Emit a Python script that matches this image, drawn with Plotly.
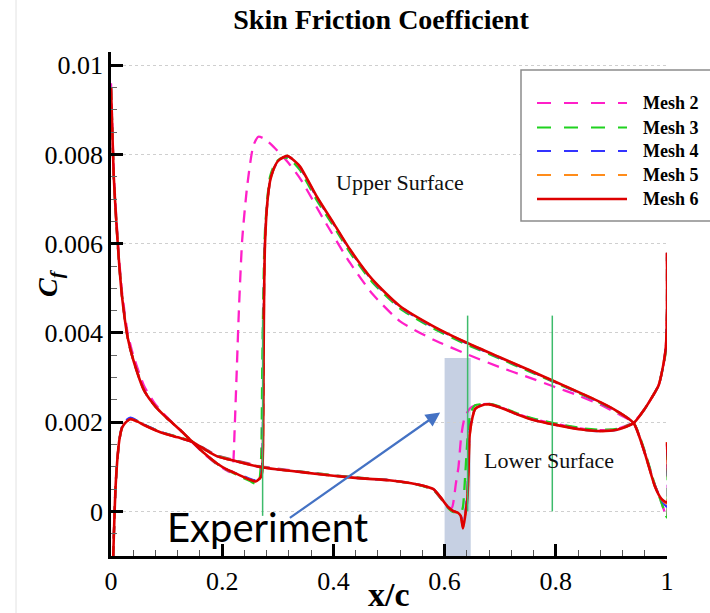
import plotly.graph_objects as go

# ---------------- data ----------------
MESH_NAMES = ["Mesh 2", "Mesh 3", "Mesh 4", "Mesh 5", "Mesh 6"]

# shared x grids for meshes 3-6
X_UP = [0.0, 0.002, 0.005, 0.01, 0.015, 0.02, 0.03, 0.04, 0.06, 0.08, 0.10, 0.125, 0.146,
        0.17, 0.19, 0.21, 0.23, 0.25, 0.26, 0.266, 0.27, 0.272, 0.2735, 0.2745, 0.2755,
        0.277, 0.281, 0.286, 0.292, 0.30, 0.31, 0.318, 0.326, 0.34, 0.37, 0.40, 0.43,
        0.47, 0.52, 0.58, 0.64, 0.70, 0.75, 0.80, 0.84, 0.88, 0.91, 0.94, 0.96, 0.978,
        0.99, 1.0, 1.0]
X_LO = [0.003, 0.0045, 0.006, 0.008, 0.011, 0.015, 0.02, 0.027, 0.035, 0.045, 0.062, 0.09,
        0.12, 0.146, 0.17, 0.19, 0.23, 0.27, 0.30, 0.35, 0.40, 0.45, 0.50, 0.54, 0.56,
        0.58, 0.595, 0.606, 0.615, 0.624, 0.629, 0.633, 0.637, 0.641, 0.643, 0.645, 0.65,
        0.655, 0.665, 0.68, 0.70, 0.73, 0.76, 0.80, 0.85, 0.88, 0.91, 0.94, 0.96, 0.975,
        0.985, 0.994, 0.998, 1.0, 1.0]

# mesh 2 has its own grid (earlier transition)
X_UP_M2 = [0.0, 0.002, 0.005, 0.01, 0.015, 0.02, 0.03, 0.04, 0.06, 0.08, 0.10, 0.125, 0.146,
           0.17, 0.19, 0.205, 0.214, 0.218, 0.22, 0.222, 0.226, 0.23, 0.236, 0.245, 0.256,
           0.265, 0.275, 0.292, 0.32, 0.342, 0.38, 0.43, 0.47, 0.52, 0.58, 0.643, 0.70,
           0.75, 0.796, 0.84, 0.88, 0.91, 0.94, 0.96, 0.978, 0.99, 1.0, 1.0]
CF_UP_M2 = [0.0096, 0.0088, 0.0076, 0.0065, 0.0056, 0.0049, 0.004, 0.0035, 0.0028, 0.0024,
            0.00212, 0.00182, 0.00155, 0.00126, 0.00106, 0.00094, 0.00088, 0.00092, 0.0011,
            0.0017, 0.0031, 0.0045, 0.0061, 0.0073, 0.0082, 0.0084, 0.00836, 0.00818,
            0.0078, 0.00743, 0.0066, 0.00557, 0.00488, 0.00426, 0.00385, 0.00351, 0.00323,
            0.00301, 0.0028, 0.0026, 0.00239, 0.0022, 0.00198, 0.0013, 0.0006, 0.0002,
            -0.00014, 0.0015]
X_LO_M2 = [0.003, 0.0045, 0.006, 0.008, 0.011, 0.015, 0.02, 0.027, 0.035, 0.045, 0.062, 0.09,
           0.12, 0.146, 0.17, 0.19, 0.23, 0.27, 0.30, 0.35, 0.40, 0.45, 0.50, 0.54, 0.56,
           0.58, 0.595, 0.606, 0.613, 0.617, 0.62, 0.625, 0.63, 0.636, 0.645, 0.655, 0.68,
           0.70, 0.73, 0.76, 0.80, 0.85, 0.88, 0.91, 0.94, 0.96, 0.975, 0.985, 0.994, 0.998,
           1.0, 1.0]
CF_LO_M2 = [-0.0015, -0.0008, -0.0002, 0.0005, 0.0011, 0.0016, 0.00188, 0.002, 0.00207,
            0.00203, 0.00192, 0.00177, 0.00166, 0.00156, 0.0014, 0.00126, 0.00113, 0.00101,
            0.00096, 0.00088, 0.00081, 0.00075, 0.0007, 0.00064, 0.00058, 0.00048, 0.00026,
            0.0001, 0.00008, 0.0003, 0.0006, 0.001, 0.0017, 0.0021, 0.0023, 0.00238, 0.00241,
            0.00234, 0.00219, 0.00207, 0.00196, 0.00185, 0.00182, 0.00185, 0.002, 0.0023,
            0.0026, 0.00283, 0.0033, 0.0037, 0.0045, 0.0058]

CF_UP_M3 = [0.0095, 0.0087, 0.0075, 0.0064, 0.0055, 0.0048, 0.0039, 0.0034, 0.0027, 0.00235,
            0.0021, 0.00182, 0.00156, 0.00128, 0.00107, 0.00092, 0.0008, 0.00068, 0.00062,
            0.00066, 0.0012, 0.0032, 0.0045, 0.0052, 0.0058, 0.0063, 0.007, 0.0075, 0.00772,
            0.00787, 0.00793, 0.00792, 0.00785, 0.00765, 0.00698, 0.0064, 0.0058, 0.00514,
            0.00455, 0.0041, 0.00374, 0.00342, 0.00315, 0.00288, 0.00266, 0.00243, 0.00224,
            0.00199, 0.00135, 0.0006, 0.0002, -0.00014, 0.0015]
CF_LO_M3 = [-0.0015, -0.0008, -0.0002, 0.0005, 0.0011, 0.0016, 0.00189, 0.00202, 0.00208,
            0.00204, 0.00193, 0.00178, 0.00167, 0.00157, 0.00139, 0.00125, 0.00112, 0.001,
            0.00095, 0.00088, 0.00081, 0.00075, 0.0007, 0.00063, 0.00057, 0.00048, 0.00026,
            0.00008, -0.00001, -0.00002, -0.00005, 0.0001, 0.0008, 0.0016, 0.0019, 0.0021,
            0.0023, 0.00238, 0.0024, 0.00241, 0.00235, 0.0022, 0.00208, 0.00197, 0.00186,
            0.00183, 0.00185, 0.00199, 0.0023, 0.0026, 0.00283, 0.0033, 0.0036, 0.0044, 0.0057]

CF_UP_M4 = [0.0095, 0.0087, 0.0075, 0.0064, 0.0055, 0.0048, 0.0039, 0.0034, 0.0027, 0.00235,
            0.0021, 0.00182, 0.00156, 0.00128, 0.00108, 0.00093, 0.00083, 0.00073, 0.0007,
            0.00076, 0.0008, 0.0011, 0.0022, 0.0041, 0.0053, 0.0061, 0.0069, 0.0074, 0.00766,
            0.00785, 0.00794, 0.00796, 0.0079, 0.00771, 0.00704, 0.00645, 0.00585, 0.00518,
            0.00458, 0.00413, 0.00377, 0.00344, 0.00317, 0.00289, 0.00267, 0.00244, 0.00225,
            0.00198, 0.00132, 0.00058, 0.00026, 0.0001, 0.00155]
CF_LO_M4 = [-0.0015, -0.0008, -0.0002, 0.0005, 0.0011, 0.0016, 0.0019, 0.00204, 0.0021,
            0.00205, 0.00193, 0.00178, 0.00166, 0.00156, 0.00138, 0.00124, 0.00111, 0.00099,
            0.00094, 0.00087, 0.0008, 0.00074, 0.0007, 0.00063, 0.00058, 0.0005, 0.00028,
            0.0001, 0.00001, -0.00003, -0.00008, -0.0003, -0.00005, 0.0004, 0.0011, 0.0018,
            0.00212, 0.0023, 0.00237, 0.0024, 0.00233, 0.00218, 0.00205, 0.00194, 0.00183,
            0.0018, 0.00183, 0.00198, 0.0023, 0.0026, 0.00283, 0.00333, 0.0037, 0.0045, 0.0058]

CF_UP_M5 = [0.0095, 0.0087, 0.0075, 0.0064, 0.0055, 0.0048, 0.0039, 0.0034, 0.0027, 0.00235,
            0.0021, 0.00182, 0.00156, 0.00128, 0.00108, 0.00093, 0.00082, 0.00071, 0.00068,
            0.00073, 0.00079, 0.0009, 0.0016, 0.0036, 0.0051, 0.006, 0.0069, 0.0074, 0.00766,
            0.00785, 0.00794, 0.00797, 0.0079, 0.00772, 0.00705, 0.00646, 0.00586, 0.00519,
            0.00459, 0.00414, 0.00378, 0.00345, 0.00318, 0.0029, 0.00268, 0.00245, 0.00225,
            0.00198, 0.00131, 0.00057, 0.00027, 0.00018, 0.00155]
CF_LO_M5 = [-0.0015, -0.0008, -0.0002, 0.0005, 0.0011, 0.0016, 0.00188, 0.002, 0.00207,
            0.00203, 0.00192, 0.00177, 0.00166, 0.00156, 0.00138, 0.00124, 0.00111, 0.00099,
            0.00094, 0.00087, 0.0008, 0.00074, 0.0007, 0.00063, 0.00058, 0.0005, 0.00028,
            0.0001, 0.00001, -0.00003, -0.0001, -0.00036, -0.00009, 0.00032, 0.00095, 0.0017,
            0.0021, 0.0023, 0.00237, 0.0024, 0.00233, 0.00218, 0.00205, 0.00194, 0.00183,
            0.0018, 0.00183, 0.00198, 0.0023, 0.0026, 0.00283, 0.00333, 0.0037, 0.0045, 0.0058]

CF_UP_M6 = [0.0095, 0.0087, 0.0075, 0.0064, 0.0055, 0.0048, 0.0039, 0.0034, 0.0027, 0.00235,
            0.0021, 0.00182, 0.00156, 0.00128, 0.00108, 0.00093, 0.00082, 0.00071, 0.00067,
            0.00072, 0.00078, 0.0009, 0.0015, 0.0035, 0.005, 0.006, 0.0069, 0.0074, 0.00766,
            0.00785, 0.00794, 0.00797, 0.0079, 0.00773, 0.00706, 0.00647, 0.00587, 0.0052,
            0.0046, 0.00415, 0.00378, 0.00345, 0.00318, 0.0029, 0.00268, 0.00245, 0.00225,
            0.00198, 0.00131, 0.00057, 0.00028, 0.0002, 0.00155]
CF_LO_M6 = [-0.0015, -0.0008, -0.0002, 0.0005, 0.0011, 0.0016, 0.00188, 0.002, 0.00207,
            0.00203, 0.00192, 0.00177, 0.00166, 0.00156, 0.00138, 0.00124, 0.00111, 0.00099,
            0.00094, 0.00087, 0.0008, 0.00074, 0.0007, 0.00063, 0.00058, 0.0005, 0.00028,
            0.0001, 0.00001, -0.00003, -0.0001, -0.00038, -0.0001, 0.0003, 0.0009, 0.0017,
            0.0021, 0.0023, 0.00237, 0.0024, 0.00233, 0.00218, 0.00205, 0.00194, 0.00183,
            0.0018, 0.00183, 0.00198, 0.0023, 0.0026, 0.00283, 0.00333, 0.0037, 0.0045, 0.0058]

# experimental transition markers and shaded experiment band
EXP_X = [0.2727, 0.6414, 0.7937]
EXP_Y0 = [-0.0001, 0.0, 0.0]
EXP_Y1 = [0.0043, 0.00439, 0.00439]
BAND_X = [0.6, 0.647]
BAND_Y = [-0.001, 0.00344]

X_TICKS = [0, 0.2, 0.4, 0.6, 0.8, 1]
X_TICK_TEXT = ["0", "0.2", "0.4", "0.6", "0.8", "1"]
Y_TICKS = [0, 0.002, 0.004, 0.006, 0.008, 0.01]
Y_TICK_TEXT = ["0", "0.002", "0.004", "0.006", "0.008", "0.01"]

# ---------------- styling ----------------
COLORS = ["#ff1fc8", "#1fd21f", "#3333ff", "#ff8c1a", "#dd0000"]
DASHES = ["12px,8px", "12px,8px", "12px,8px", "12px,8px", "solid"]
WIDTHS = [2.3, 2.3, 2.3, 2.3, 2.6]
SERIF = "Liberation Serif"

W, H = 710, 613
ML, MR, MT, MB = 111, 43, 52, 57
PW, PH = W - ML - MR, H - MT - MB


def pxx(px):
    return (px - ML) / PW


def pxy(py):
    return (MT + PH - py) / PH


series = [
    (X_UP_M2, CF_UP_M2, X_LO_M2, CF_LO_M2),
    (X_UP, CF_UP_M3, X_LO, CF_LO_M3),
    (X_UP, CF_UP_M4, X_LO, CF_LO_M4),
    (X_UP, CF_UP_M5, X_LO, CF_LO_M5),
    (X_UP, CF_UP_M6, X_LO, CF_LO_M6),
]

fig = go.Figure()

for name, (xu, yu, xl, yl), col, dash, w in zip(MESH_NAMES, series, COLORS, DASHES, WIDTHS):
    fig.add_trace(go.Scatter(
        x=list(xu) + [None] + list(xl),
        y=list(yu) + [None] + list(yl),
        mode="lines", name=name, showlegend=False,
        line=dict(color=col, width=w, dash=dash, shape="spline", smoothing=0.6),
        connectgaps=False,
    ))

for ex, e0, e1 in zip(EXP_X, EXP_Y0, EXP_Y1):
    fig.add_trace(go.Scatter(
        x=[ex, ex], y=[e0, e1], mode="lines", showlegend=False,
        line=dict(color="#3dbb6b", width=1.5), hoverinfo="skip",
    ))

shapes = []
# shaded band
shapes.append(dict(type="rect", xref="x", yref="y", x0=BAND_X[0], x1=BAND_X[1],
                   y0=BAND_Y[0], y1=BAND_Y[1], fillcolor="#c6d0e3",
                   line=dict(width=0), layer="below"))
# faint page border line at the left
shapes.append(dict(type="line", xref="paper", yref="paper", x0=pxx(16), x1=pxx(16),
                   y0=pxy(613), y1=pxy(0), line=dict(color="#e2e2e2", width=1)))
# legend box
shapes.append(dict(type="rect", xref="paper", yref="paper", x0=pxx(521), x1=pxx(730),
                   y0=pxy(221), y1=pxy(70), fillcolor="white",
                   line=dict(color="#8c8c8c", width=1.5)))

annotations = []
leg_y = [103, 127.5, 151, 175, 199]
for name, col, dash, w, ly in zip(MESH_NAMES, COLORS, DASHES, WIDTHS, leg_y):
    shapes.append(dict(type="line", xref="paper", yref="paper", x0=pxx(537), x1=pxx(627),
                       y0=pxy(ly), y1=pxy(ly),
                       line=dict(color=col, width=w if w > 2.5 else 2.2,
                                 dash="14px,13px" if dash != "solid" else "solid")))
    annotations.append(dict(xref="paper", yref="paper", x=pxx(641), y=pxy(ly),
                            xanchor="left", yanchor="middle", showarrow=False, text=name,
                            font=dict(family=SERIF, size=18, color="black", weight="bold")))

annotations += [
    dict(x=0.519, y=0.00737, xref="x", yref="y", text="Upper Surface", showarrow=False,
         font=dict(family=SERIF, size=22, color="#111")),
    dict(x=0.787, y=0.00115, xref="x", yref="y", text="Lower Surface", showarrow=False,
         font=dict(family=SERIF, size=22, color="#111")),
    dict(x=0.281, y=-0.00036, xref="x", yref="y", text="Experiment", showarrow=False,
         font=dict(family="Lato", size=40, color="black")),
    dict(x=0.592, y=0.00222, xref="x", yref="y", ax=0.319, ay=-0.00017, axref="x", ayref="y",
         text="", showarrow=True, arrowhead=2, arrowsize=1.3, arrowwidth=2.2,
         arrowcolor="#4472c4", standoff=0),
    # axis titles
    dict(xref="paper", yref="paper", x=pxx(49), y=pxy(283), textangle=-90, showarrow=False,
         text="<i><b>C</b></i><sub><i><b>f</b></i></sub>", xanchor="center", yanchor="middle",
         font=dict(family=SERIF, size=28, color="black")),
    dict(xref="paper", yref="paper", x=pxx(389), y=pxy(594), showarrow=False,
         text="<b>x/c</b>", xanchor="center", yanchor="middle",
         font=dict(family=SERIF, size=34, color="black")),
]

fig.update_layout(
    width=W, height=H,
    margin=dict(l=ML, r=MR, t=MT, b=MB),
    paper_bgcolor="white", plot_bgcolor="white",
    title=dict(text="Skin Friction Coefficient", x=381 / W, xref="container", xanchor="center",
               y=1 - 19 / H, yref="container", yanchor="middle",
               font=dict(family=SERIF, size=28, color="black", weight="bold")),
    showlegend=False,
    shapes=shapes,
    annotations=annotations,
    xaxis=dict(range=[0, 1], showline=True, linecolor="black", linewidth=2.5, mirror=False,
               showgrid=False, zeroline=False, ticks="inside", ticklen=12, tickwidth=2.5,
               tickcolor="black", tickvals=X_TICKS, ticktext=X_TICK_TEXT,
               tickfont=dict(family=SERIF, size=26, color="black"),
               minor=dict(ticks="inside", ticklen=6, tickwidth=1.2, tickcolor="#555",
                          tick0=0, dtick=0.04, showgrid=False)),
    yaxis=dict(range=[-0.001, 0.0103], showline=True, linecolor="black", linewidth=2.5,
               mirror=False, showgrid=True, gridcolor="#cfcfcf", griddash="dot", gridwidth=1,
               zeroline=False, ticks="inside", ticklen=12, tickwidth=2.5, tickcolor="black",
               tickvals=Y_TICKS, ticktext=Y_TICK_TEXT,
               tickfont=dict(family=SERIF, size=26, color="black"),
               minor=dict(ticks="inside", ticklen=6, tickwidth=1.2, tickcolor="#666",
                          tick0=0, dtick=0.0005, showgrid=False)),
)

fig.write_html("out.html")
